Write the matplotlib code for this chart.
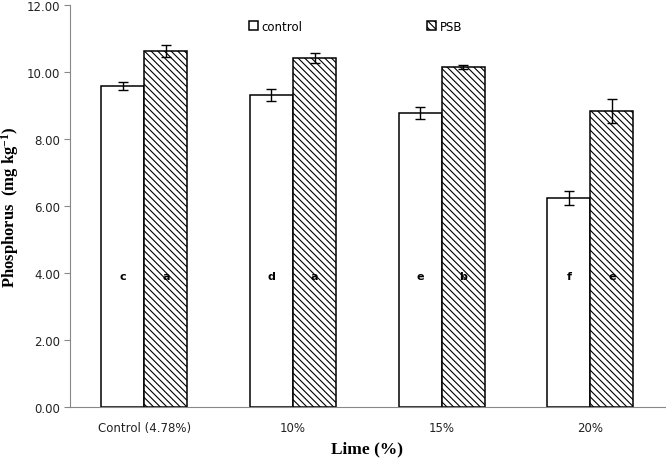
import numpy as np
import matplotlib
matplotlib.use("Agg")
import matplotlib.pyplot as plt

# DATOS
categorias = ["Control (4.78%)", "10%", "15%", "20%"]
control = [9.58, 9.31, 8.78, 6.24]
control_err = [0.12, 0.19, 0.18, 0.21]
psb = [10.62, 10.42, 10.15, 8.84]
psb_err = [0.18, 0.14, 0.05, 0.36]
letras_control = ["c", "d", "e", "f"]
letras_psb = ["a", "a", "b", "e"]
y_ticks = [0, 2, 4, 6, 8, 10, 12]

plt.rcParams['hatch.linewidth'] = 0.8
plt.rcParams['mathtext.default'] = 'regular'

fig = plt.figure(figsize=(6.66, 4.64), dpi=100)
ax = fig.add_axes([0.105, 0.121, 0.893, 0.866])

x = np.arange(len(categorias))
ancho = 0.29

ax.bar(x - ancho / 2, control, ancho, color="white", edgecolor="black",
       linewidth=1.1, label="control", zorder=2)
ax.bar(x + ancho / 2, psb, ancho, color="white", edgecolor="black",
       linewidth=1.1, hatch="\\\\\\\\\\", label="PSB", zorder=2)
ax.errorbar(x - ancho / 2, control, yerr=control_err, fmt="none",
            ecolor="black", elinewidth=1.0, capsize=3.5, capthick=1.0, zorder=3)
ax.errorbar(x + ancho / 2, psb, yerr=psb_err, fmt="none",
            ecolor="black", elinewidth=1.0, capsize=3.5, capthick=1.0, zorder=3)

# letras de significancia
for i in range(len(categorias)):
    ax.text(x[i] - ancho / 2, 3.9, letras_control[i], ha="center", va="center",
            fontsize=8, fontweight="bold", zorder=4)
    ax.text(x[i] + ancho / 2, 3.9, letras_psb[i], ha="center", va="center",
            fontsize=8, fontweight="bold", zorder=4)

ax.set_xlim(-0.5, len(categorias) - 0.5)
ax.set_ylim(0, 12)
ax.set_yticks(y_ticks)
ax.set_yticklabels([f"{v:.2f}" for v in y_ticks], fontsize=8.5, color="#222222")
ax.set_xticks(x)
ax.set_xticklabels(categorias, fontsize=8.5, color="#222222")
ax.tick_params(axis="x", length=0, pad=10)
ax.tick_params(axis="y", length=4, color="#888888", direction="out", pad=3)

for lado in ["top", "right"]:
    ax.spines[lado].set_visible(False)
ax.spines["left"].set_color("#888888")
ax.spines["bottom"].set_color("#888888")

ax.set_ylabel("Phosphorus  (mg kg$^{-1}$)", family="Liberation Serif",
              fontweight="bold", fontsize=12, labelpad=4)
ax.set_xlabel("Lime (%)", family="Liberation Serif", fontweight="bold",
              fontsize=12.5, labelpad=5)

ax.legend(loc="upper center", bbox_to_anchor=(0.48, 0.99), ncol=2, frameon=False,
          fontsize=8.5, columnspacing=10.5, handlelength=0.8, handleheight=0.8,
          handletextpad=0.3)

fig.savefig("out.png", dpi=100)
